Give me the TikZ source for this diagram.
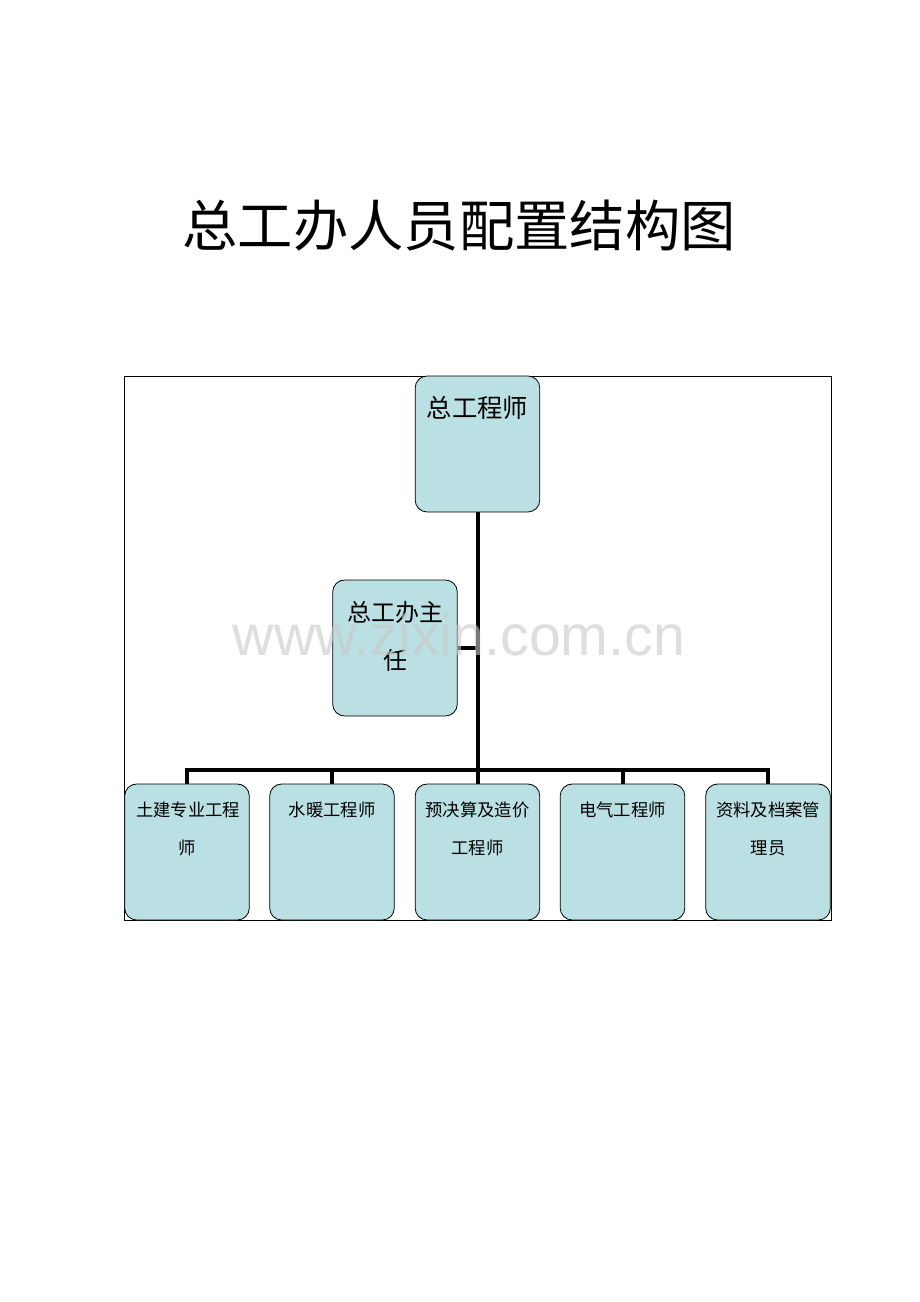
\documentclass[tikz,border=0pt]{standalone}
\usepackage{fontspec}
\newfontfamily\cjk{Noto Sans CJK SC}
\newfontfamily\wmfont{Liberation Sans}
\definecolor{boxblue}{RGB}{187,224,227}
\definecolor{wmgray}{RGB}{200,200,200}
\begin{document}
\begin{tikzpicture}[x=0.75pt,y=-0.75pt,
  box/.style={draw=black, line width=0.6pt, fill=boxblue, rounded corners=9pt,
    minimum width=93.5pt, minimum height=102pt, inner sep=0pt},
  bigtxt/.style={font=\cjk\fontsize{19}{24}\selectfont, inner sep=0pt},
  midtxt/.style={font=\cjk\fontsize{18}{24}\selectfont, inner sep=0pt},
  smalltxt/.style={font=\cjk\fontsize{13}{16}\selectfont, inner sep=0pt},
  link/.style={line width=3pt, line join=miter}]
\useasboundingbox (0,0) rectangle (920,1302);
\fill[white] (0,0) rectangle (920,1302);

% title
\node[font=\cjk\fontsize{41.5}{46}\selectfont, inner sep=0pt] (title) at (459,226) {总工办人员配置结构图};

% frame
\node[draw=black, line width=0.6pt, minimum width=530.25pt, minimum height=408pt, inner sep=0pt] (frame) at (477.5,648) {};

% boxes
\node[box] (top) at (477.5,444) {};
\node[box] (mid) at (395,648) {};
\node[box] (b1) at (187,852) {};
\node[box] (b2) at (332,852) {};
\node[box] (b3) at (477.5,852) {};
\node[box] (b4) at (622.5,852) {};
\node[box] (b5) at (768,852) {};

\coordinate (hub) at (477.5,770);

% connectors
\draw[link] (top.south) -- (hub);
\draw[link] (mid.east) -- (mid.east -| hub);
\draw[link] (b1.north) -- (b1.north |- hub) -- (b5.north |- hub) -- (b5.north);
\draw[link] (b2.north) -- (b2.north |- hub);
\draw[link] (hub) -- (b3.north);
\draw[link] (b4.north) -- (b4.north |- hub);

% texts
\node[bigtxt] (ttop) at (477.5,408) {总工程师};
\node[midtxt] (tmid1) at (395,612) {总工办主};
\node[midtxt] (tmid2) at (395,660) {任};
\node[smalltxt] (t1a) at (188,810) {土建专业工程};
\node[smalltxt] (t1b) at (187,848) {师};
\node[smalltxt] (t2a) at (332,810) {水暖工程师};
\node[smalltxt] (t3a) at (477.5,810) {预决算及造价};
\node[smalltxt] (t3b) at (477.5,848) {工程师};
\node[smalltxt] (t4a) at (622.5,810) {电气工程师};
\node[smalltxt] (t5a) at (768,810) {资料及档案管};
\node[smalltxt] (t5b) at (768,848) {理员};

% watermark
\node[font=\wmfont\fontsize{43}{48}\selectfont, text=wmgray, opacity=0.6, inner sep=0pt] (wm) at (459,635) {www.zixin.com.cn};
\end{tikzpicture}
\end{document}
